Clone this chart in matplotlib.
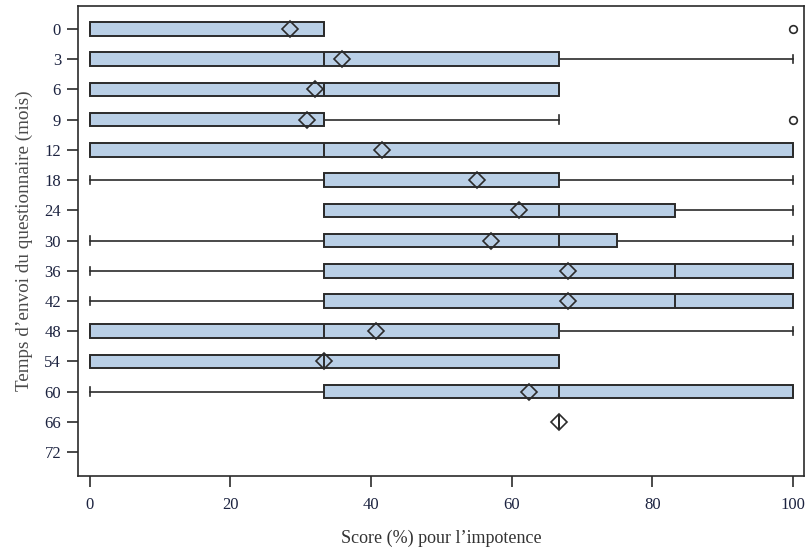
import matplotlib
matplotlib.use("Agg")
import matplotlib.pyplot as plt

plt.rcParams['font.family'] = ['Liberation Serif', 'DejaVu Serif']

# Data
months = ["0", "3", "6", "9", "12", "18", "24", "30", "36", "42", "48", "54", "60", "66", "72"]
whislo = [0, 0, 0, 0, 0, 0, 33.3, 0, 0, 0, 0, 0, 0, 66.7, None]
q1 = [0, 0, 0, 0, 0, 33.3, 33.3, 33.3, 33.3, 33.3, 0, 0, 33.3, 66.7, None]
med = [33.3, 33.3, 33.3, 33.3, 33.3, 33.3, 66.7, 66.7, 83.3, 83.3, 33.3, 33.3, 66.7, 66.7, None]
q3 = [33.3, 66.7, 66.7, 33.3, 100, 66.7, 83.3, 75, 100, 100, 66.7, 66.7, 100, 66.7, None]
whishi = [33.3, 100, 66.7, 66.7, 100, 100, 100, 100, 100, 100, 100, 66.7, 100, 66.7, None]
means = [28.5, 35.9, 32.0, 30.9, 41.6, 55.1, 61.1, 57.0, 68.0, 68.0, 40.7, 33.3, 62.5, 66.7, None]
outliers = [[100], [], [], [100], [], [], [], [], [], [], [], [], [], [], []]

fig = plt.figure(figsize=(8.08, 5.49), dpi=100)
ax = fig.add_axes([0.0962, 0.133, 0.899, 0.856])

stats = []
positions = []
for i in range(len(months)):
    if q1[i] is None:
        continue
    stats.append(dict(whislo=whislo[i], q1=q1[i], med=med[i], q3=q3[i],
                      whishi=whishi[i], mean=means[i], fliers=outliers[i]))
    positions.append(i)

edge = '#2b2b2b'
ax.bxp(stats, positions=positions, orientation='horizontal', widths=0.45,
       capwidths=0.28, showmeans=True, patch_artist=True,
       boxprops=dict(facecolor='#b9cfe6', edgecolor=edge, linewidth=1.4),
       medianprops=dict(color=edge, linewidth=1.4),
       whiskerprops=dict(color=edge, linewidth=1.2),
       capprops=dict(color=edge, linewidth=1.2),
       meanprops=dict(marker='D', markerfacecolor='none', markeredgecolor=edge,
                      markersize=8, markeredgewidth=1.2),
       flierprops=dict(marker='o', markerfacecolor='none', markeredgecolor=edge,
                       markersize=5.5, markeredgewidth=1.2))

ax.set_xlim(-1.7, 101.6)
ax.set_ylim(len(months) - 1 + 0.79, -0.76)
ax.set_yticks(range(len(months)))
ax.set_yticklabels(months)
ax.set_xticks([0, 20, 40, 60, 80, 100])
ax.tick_params(axis='both', labelsize=12, length=8, width=1.2, color=edge,
               labelcolor='#1c2340', direction='out')
ax.tick_params(axis='x', pad=7)
ax.tick_params(axis='y', pad=4)
for sp in ax.spines.values():
    sp.set_linewidth(1.2)
    sp.set_color(edge)

ax.set_xlabel("Score (%) pour l\u2019impotence", fontsize=13, color='#333333', labelpad=12)
ax.set_ylabel("Temps d\u2019envoi du questionnaire (mois)", fontsize=13.8, color='#4a4a4a', labelpad=8)

fig.savefig("out.png", dpi=100)
